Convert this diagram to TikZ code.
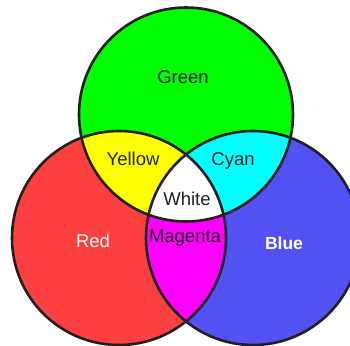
\documentclass[tikz,border=0pt]{standalone}
\usepackage{fontspec}
\setmainfont{Liberation Sans}
\definecolor{cRed}{HTML}{FC4040}
\definecolor{cGreen}{HTML}{00FF00}
\definecolor{cBlue}{HTML}{5252F2}
\definecolor{cYellow}{HTML}{FFFF00}
\definecolor{cCyan}{HTML}{00FFFF}
\definecolor{cMagenta}{HTML}{FF00FF}
\definecolor{cEdge}{HTML}{231F20}
\tikzset{
  ring/.style={draw=cEdge, line width=2.6pt},
  tag/.style={font=\fontsize{18.5}{20}\selectfont, text=cEdge, inner sep=0pt},
  wtag/.style={tag, text=white},
}
\begin{document}
\begin{tikzpicture}[x=1pt, y=-1pt]
  \useasboundingbox (0,0) rectangle (350,345);
  \def\rad{107}

  % circle centres
  \coordinate (cg) at (186,114.5);
  \coordinate (cr) at (119,238);
  \coordinate (cb) at (253,238);

  % base discs
  \fill[cRed]   (cr) circle[radius=\rad];
  \fill[cBlue]  (cb) circle[radius=\rad];
  \fill[cGreen] (cg) circle[radius=\rad];

  % overlaps with green
  \begin{scope}
    \clip (cg) circle[radius=\rad];
    \fill[cYellow] (cr) circle[radius=\rad];
    \fill[cCyan]   (cb) circle[radius=\rad];
  \end{scope}

  % red and blue overlap, then all three
  \begin{scope}
    \clip (cr) circle[radius=\rad];
    \fill[cMagenta] (cb) circle[radius=\rad];
    \clip (cb) circle[radius=\rad];
    \fill[white] (cg) circle[radius=\rad];
  \end{scope}

  % outlines
  \foreach \c in {cg,cr,cb}
    \draw[ring] (\c) circle[radius=\rad];

  % labels
  \node[tag]  (green)   at (183,77)  {Green};
  \node[tag]  (yellow)  at (133,159) {Yellow};
  \node[tag]  (cyan)    at (233,161) {Cyan};
  \node[tag]  (white)   at (187,199) {White};
  \node[tag]  (magenta) at (185,238) {Magenta};
  \node[wtag] (red)     at (93,241)  {Red};
  \node[wtag, font=\fontsize{17.5}{19}\selectfont\bfseries] (blue) at (284,243) {Blue};
\end{tikzpicture}
\end{document}
